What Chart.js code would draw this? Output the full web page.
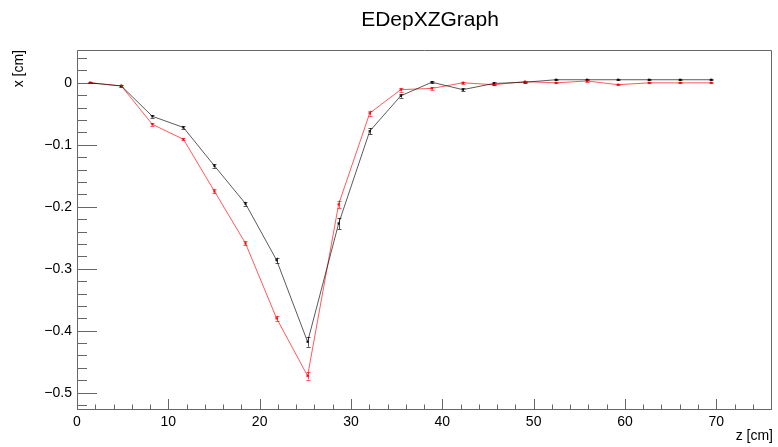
<!DOCTYPE html>
<html>
<head>
<meta charset="utf-8">
<script src="https://cdn.jsdelivr.net/npm/chart.js@4"></script>
<style>
  html, body { margin: 0; padding: 0; background: #fff; }
  canvas { display: block; }
</style>
</head>
<body>
<canvas id="grafico" width="778" height="447"></canvas>
<script>
// z posicion (cm)
const valoresZ = [1.45, 4.85, 8.25, 11.65, 15.05, 18.45, 21.85, 25.25, 28.65, 32.05, 35.45,
                  38.85, 42.25, 45.65, 49.05, 52.45, 55.85, 59.25, 62.65, 66.05, 69.45];

// x medio, serie negra
const valoresNegro = [0, -0.005, -0.054, -0.072, -0.134, -0.195, -0.286, -0.418, -0.227, -0.078, -0.021,
                      0.001, -0.011, -0.001, 0.001, 0.005, 0.005, 0.005, 0.005, 0.005, 0.005];
const erroresNegro = [0.001, 0.002, 0.002, 0.002, 0.003, 0.003, 0.004, 0.008, 0.009, 0.005, 0.003,
                      0.002, 0.002, 0.002, 0.001, 0.001, 0.001, 0.001, 0.001, 0.001, 0.001];

// x medio, serie roja
const valoresRojo = [0, -0.005, -0.067, -0.091, -0.175, -0.259, -0.380, -0.473, -0.196, -0.049, -0.011,
                     -0.009, 0.0, -0.003, 0.002, 0.0, 0.003, -0.003, 0.0, 0.0, 0.0];
const erroresRojo = [0.001, 0.002, 0.002, 0.002, 0.003, 0.003, 0.004, 0.006, 0.006, 0.004, 0.003,
                     0.002, 0.002, 0.001, 0.001, 0.001, 0.001, 0.001, 0.001, 0.001, 0.001];

const ticksZ = [0, 10, 20, 30, 40, 50, 60, 70];
const ticksX = [0, -0.1, -0.2, -0.3, -0.4, -0.5];

const fuente = "'Liberation Sans', Arial, Helvetica, sans-serif";
const colorNegro = 'rgba(0,0,0,0.65)';
const colorRojo = 'rgba(255,0,0,0.65)';

function puntos(valores) {
    return valoresZ.map((z, i) => ({ x: z, y: valores[i] }));
}

// barras de error, marco, titulos y marcas hacia dentro (estilo ROOT)
const marcoRoot = {
    id: 'marcoRoot',
    beforeDatasetsDraw(chart) {
        const ctx = chart.ctx;
        const a = chart.chartArea;
        const ex = chart.scales.x;
        const ey = chart.scales.y;
        ctx.save();
        ctx.strokeStyle = '#666';
        ctx.lineWidth = 1;
        ctx.beginPath();
        ctx.rect(Math.round(a.left) + 0.5, Math.round(a.top) + 0.5,
                 Math.round(a.right - a.left) - 1, Math.round(a.bottom - a.top) - 1);
        ctx.stroke();

        ctx.beginPath();
        // eje z
        for (let v = 0; v <= ex.max; v += 2) {
            const px = Math.round(ex.getPixelForValue(v)) + 0.5;
            const largo = (v % 10 === 0) ? 11 : 5.5;
            ctx.moveTo(px, a.bottom);
            ctx.lineTo(px, a.bottom - largo);
        }
        // eje x
        for (let k = Math.ceil(ey.min / 0.02); k * 0.02 <= ey.max; k++) {
            const py = Math.round(ey.getPixelForValue(k * 0.02)) + 0.5;
            const largo = (k % 5 === 0) ? 20 : 10;
            ctx.moveTo(a.left, py);
            ctx.lineTo(a.left + largo, py);
        }
        ctx.stroke();

        ctx.fillStyle = '#000';
        // titulo
        ctx.font = '21px ' + fuente;
        ctx.textAlign = 'center';
        ctx.textBaseline = 'middle';
        ctx.fillText('EDepXZGraph', 430, 20.6);

        // títulos de ejes
        ctx.font = '14px ' + fuente;
        ctx.textAlign = 'right';
        ctx.textBaseline = 'alphabetic';
        ctx.fillText('z [cm]', 773, 440);
        ctx.save();
        ctx.translate(23, 50);
        ctx.rotate(-Math.PI / 2);
        ctx.fillText('x [cm]', 0, 0);
        ctx.restore();
        ctx.restore();
    },
    afterDatasetsDraw(chart) {
        const ctx = chart.ctx;
        const ex = chart.scales.x;
        const ey = chart.scales.y;
        const series = [[valoresNegro, erroresNegro, colorNegro], [valoresRojo, erroresRojo, colorRojo]];
        ctx.save();
        ctx.lineWidth = 1;
        series.forEach(([vals, errs, color]) => {
            ctx.strokeStyle = color;
            ctx.beginPath();
            valoresZ.forEach((z, i) => {
                const px = Math.round(ex.getPixelForValue(z)) + 0.5;
                const y1 = ey.getPixelForValue(vals[i] + errs[i]);
                const y2 = ey.getPixelForValue(vals[i] - errs[i]);
                ctx.moveTo(px, y1);
                ctx.lineTo(px, y2);
                ctx.moveTo(px - 2, Math.round(y1) + 0.5);
                ctx.lineTo(px + 2, Math.round(y1) + 0.5);
                ctx.moveTo(px - 2, Math.round(y2) + 0.5);
                ctx.lineTo(px + 2, Math.round(y2) + 0.5);
            });
            ctx.stroke();
        });
        ctx.restore();
    }
};

const grafico = new Chart(document.getElementById('grafico'), {
    type: 'scatter',
    data: {
        datasets: [
            {
                label: 'negro',
                data: puntos(valoresNegro),
                showLine: true,
                borderColor: colorNegro,
                backgroundColor: 'rgba(0,0,0,0.8)',
                borderWidth: 1,
                pointStyle: 'rect',
                pointRadius: 1.6,
                pointBorderWidth: 0
            },
            {
                label: 'rojo',
                data: puntos(valoresRojo),
                showLine: true,
                borderColor: colorRojo,
                backgroundColor: 'rgba(255,0,0,0.85)',
                borderWidth: 1,
                pointStyle: 'rect',
                pointRadius: 1.6,
                pointBorderWidth: 0
            }
        ]
    },
    options: {
        responsive: false,
        animation: false,
        layout: { padding: { left: 0, right: 6, top: 50, bottom: 0 } },
        plugins: {
            legend: { display: false },
            tooltip: { enabled: false },
            title: { display: false }
        },
        scales: {
            x: {
                type: 'linear',
                min: 0,
                max: 76.1,
                grid: { display: false, drawTicks: false },
                border: { display: false },
                afterBuildTicks: s => { s.ticks = ticksZ.map(v => ({ value: v })); },
                afterFit: s => { s.height = 37; },
                ticks: {
                    color: '#000',
                    padding: 4,
                    maxRotation: 0,
                    font: { family: fuente, size: 14 },
                    callback: v => String(v)
                }
            },
            y: {
                type: 'linear',
                min: -0.528,
                max: 0.053,
                grid: { display: false, drawTicks: false },
                border: { display: false },
                afterBuildTicks: s => { s.ticks = ticksX.map(v => ({ value: v })); },
                afterFit: s => { s.width = 77; },
                ticks: {
                    color: '#000',
                    padding: 5,
                    font: { family: fuente, size: 14 },
                    callback: v => v === 0 ? '0' : '\u2212' + Math.abs(v).toFixed(1)
                }
            }
        }
    },
    plugins: [marcoRoot]
});
</script>
</body>
</html>
